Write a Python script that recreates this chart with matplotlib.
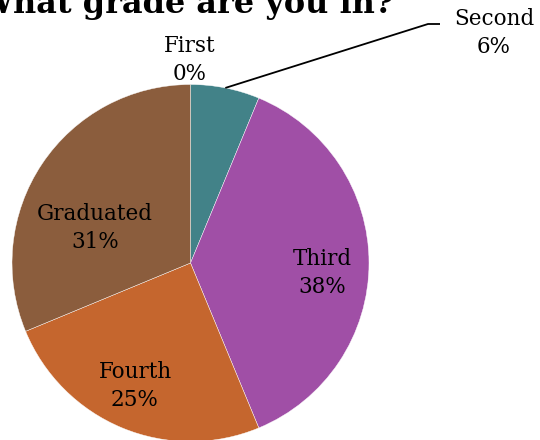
import matplotlib.pyplot as plt
import numpy as np

# survey answers (count of responses per grade)
grades = ["First", "Second", "Third", "Fourth", "Graduated"]
counts = [0, 1, 6, 4, 5]
colors = ["#4a7fb5", "#428288", "#a04fa6", "#c5662e", "#8b5d3d"]

# label centres in pixel space (x, y from top)
label_xy = [(190, 60), (494, 33), (322, 273), (135, 386), (95, 228)]

W, H = 540, 440
fig = plt.figure(figsize=(W / 100, H / 100), dpi=100)
ax = fig.add_axes([0, 0, 1, 1])

cx, cy, R = 190.5, H - 263, 178.5
wedges, _ = ax.pie(counts, colors=colors, startangle=90, counterclock=False,
                   center=(cx, cy), radius=R, frame=True,
                   wedgeprops=dict(edgecolor="white", linewidth=0.3))
ax.set_xlim(0, W)
ax.set_ylim(0, H)
ax.set_aspect("equal")
ax.axis("off")

total = sum(counts)
font = dict(family="DejaVu Serif", fontsize=15.5, color="black")
for name, c, (lx, ly) in zip(grades, counts, label_xy):
    pct = round(100 * c / total)
    ax.text(lx, H - ly, f"{name}\n{pct}%", ha="center", va="center",
            linespacing=1.4, **font)

# leader line for the thin "Second" slice
w = wedges[1]
mid = np.deg2rad((w.theta1 + w.theta2) / 2)
x0, y0 = cx + R * np.cos(mid), cy + R * np.sin(mid)
ax.plot([x0, 428, 440], [y0, H - 24, H - 24], color="black", lw=1.3,
        solid_capstyle="butt")

fig.text(186 / W, 1 - 13 / H, "What grade are you in?", ha="center",
         va="baseline", family="DejaVu Serif", fontweight="bold", fontsize=23)

fig.savefig("out.png", dpi=100)
